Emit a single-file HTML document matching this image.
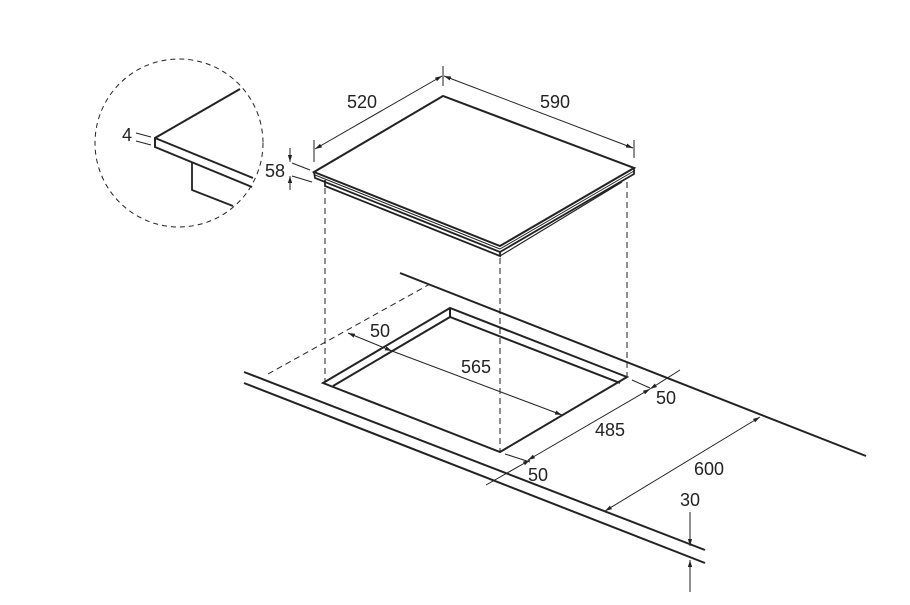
<!DOCTYPE html>
<html><head><meta charset="utf-8"><style>
html,body{margin:0;padding:0;background:#fff}
text{font-family:"Liberation Sans",sans-serif;font-size:18px;fill:#222}
</style></head><body>
<svg width="910" height="600" viewBox="0 0 910 600" xmlns="http://www.w3.org/2000/svg">
<defs>
<marker id="a" viewBox="0 0 10 10" refX="10" refY="5" markerWidth="7" markerHeight="7" orient="auto-start-reverse"><path d="M0,2 L10,5 L0,8 z" fill="#222"/></marker>
</defs>
<g stroke="#222" fill="none">
<circle cx="179" cy="143" r="84" stroke-width="1" stroke-dasharray="5,4"/>
<polyline points="240,89 155,138 155,147 252,187" stroke-width="2"/>
<line x1="155" y1="138" x2="253" y2="178" stroke-width="2"/>
<polyline points="192,162 192,190 233,206" stroke-width="1.8"/>
<line x1="136" y1="133" x2="151" y2="137" stroke-width="1"/>
<line x1="136" y1="141" x2="151" y2="145" stroke-width="1"/>
<polygon points="443,96 314,172 500,246 634,168" stroke-width="2" fill="#fff"/>
<polyline points="314,172 315,178 500,252 634,174 634,168" stroke-width="1.8"/>
<line x1="315" y1="175" x2="500" y2="249" stroke-width="1"/>
<line x1="500" y1="249" x2="634" y2="171" stroke-width="1"/>
<polyline points="325,180 325,186 500,256 500,252" stroke-width="1.8"/>
<line x1="500" y1="256" x2="622" y2="182" stroke-width="1.2"/>
<line x1="314" y1="140" x2="314" y2="162" stroke-width="1"/>
<line x1="443" y1="66" x2="443" y2="86" stroke-width="1"/>
<line x1="634" y1="140" x2="634" y2="158" stroke-width="1"/>
<line x1="315" y1="149" x2="442" y2="76" stroke-width="1" marker-start="url(#a)" marker-end="url(#a)"/>
<line x1="444" y1="76" x2="633" y2="148" stroke-width="1" marker-start="url(#a)" marker-end="url(#a)"/>
<line x1="290" y1="148" x2="290" y2="162" stroke-width="1" marker-end="url(#a)"/>
<line x1="290" y1="190" x2="290" y2="176" stroke-width="1" marker-end="url(#a)"/>
<line x1="292" y1="163" x2="310" y2="170" stroke-width="1"/>
<line x1="292" y1="176" x2="312" y2="182" stroke-width="1"/>
<line x1="325" y1="188" x2="325" y2="382" stroke-width="1" stroke-dasharray="6,4"/>
<line x1="500" y1="258" x2="500" y2="452" stroke-width="1" stroke-dasharray="6,4"/>
<line x1="627" y1="182" x2="627" y2="377" stroke-width="1" stroke-dasharray="6,4"/>
<line x1="400" y1="273" x2="866" y2="456" stroke-width="2"/>
<line x1="244" y1="372" x2="705" y2="550" stroke-width="2"/>
<line x1="244" y1="383" x2="705" y2="563" stroke-width="2"/>
<line x1="268" y1="374" x2="430" y2="284" stroke-width="1" stroke-dasharray="6,4"/>
<polygon points="323,383 450,308 627,377 500,452" stroke-width="2"/>
<polyline points="333,386 450,317 620,383" stroke-width="2"/>
<line x1="450" y1="308" x2="450" y2="317" stroke-width="2"/>
<line x1="348" y1="333" x2="392" y2="351" stroke-width="1" marker-start="url(#a)" marker-end="url(#a)"/>
<line x1="392" y1="351" x2="562" y2="415" stroke-width="1" marker-end="url(#a)"/>
<line x1="632" y1="380" x2="650" y2="388" stroke-width="1"/>
<line x1="505" y1="454" x2="530" y2="462" stroke-width="1"/>
<line x1="528" y1="460" x2="650" y2="389" stroke-width="1" marker-start="url(#a)" marker-end="url(#a)"/>
<line x1="650" y1="389" x2="680" y2="370" stroke-width="1" marker-start="url(#a)"/>
<line x1="486" y1="485" x2="530" y2="460" stroke-width="1" marker-end="url(#a)"/>
<line x1="605" y1="511" x2="760" y2="417" stroke-width="1" marker-start="url(#a)" marker-end="url(#a)"/>
<line x1="690" y1="512" x2="690" y2="546" stroke-width="1" marker-end="url(#a)"/>
<line x1="690" y1="592" x2="690" y2="560" stroke-width="1" marker-end="url(#a)"/>
</g>
<text x="347" y="108">520</text>
<text x="540" y="108">590</text>
<text x="122" y="141">4</text>
<text x="265" y="177">58</text>
<text x="370" y="337">50</text>
<text x="461" y="373">565</text>
<text x="656" y="404">50</text>
<text x="595" y="436">485</text>
<text x="528" y="481">50</text>
<text x="694" y="475">600</text>
<text x="680" y="506">30</text>
</svg>
</body></html>
